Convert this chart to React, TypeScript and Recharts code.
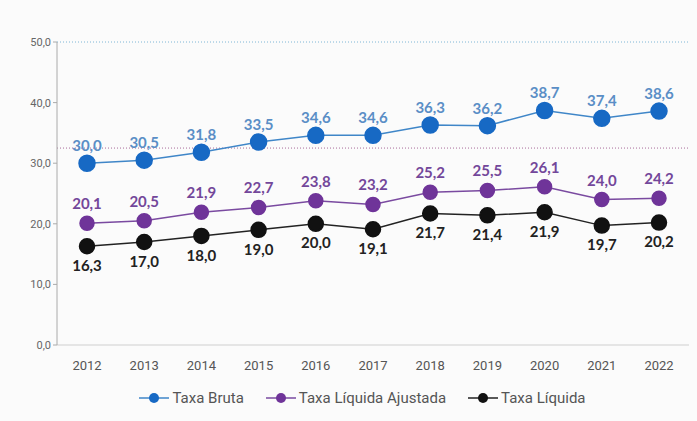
import { LineChart, Line, XAxis, YAxis, ReferenceLine, Legend, LabelList } from "recharts";

const years = ["2012", "2013", "2014", "2015", "2016", "2017", "2018", "2019", "2020", "2021", "2022"];
const taxaBruta = [30.0, 30.5, 31.8, 33.5, 34.6, 34.6, 36.3, 36.2, 38.7, 37.4, 38.6];
const taxaLiquidaAjustada = [20.1, 20.5, 21.9, 22.7, 23.8, 23.2, 25.2, 25.5, 26.1, 24.0, 24.2];
const taxaLiquida = [16.3, 17.0, 18.0, 19.0, 20.0, 19.1, 21.7, 21.4, 21.9, 19.7, 20.2];
const yTicks = [0, 10, 20, 30, 40, 50];
const metaLine = 32.5;

const data = years.map((year, i) => ({
  year,
  bruta: taxaBruta[i],
  ajustada: taxaLiquidaAjustada[i],
  liquida: taxaLiquida[i],
}));

const fmt = (v: number) => v.toFixed(1).replace(".", ",");

const narrow = "'Liberation Sans Narrow', 'Arial Narrow', Roboto, sans-serif";
const labelFont = "Lato, 'Open Sans', sans-serif";

const series = [
  { key: "bruta", name: "Taxa Bruta", color: "#1769c4", line: "#3f86c8" },
  { key: "ajustada", name: "Taxa Líquida Ajustada", color: "#6f3499", line: "#7a4aa0" },
  { key: "liquida", name: "Taxa Líquida", color: "#111111", line: "#222222" },
];

function LegendContent() {
  return (
    <div style={{ display: "flex", justifyContent: "center", gap: 22, fontFamily: narrow, fontSize: 15, color: "#555", paddingLeft: 24, paddingTop: 8 }}>
      {series.map((s) => (
        <div key={s.key} style={{ display: "flex", alignItems: "center" }}>
          <svg width={30} height={12} style={{ marginRight: 3 }}>
            <line x1={0} y1={6} x2={30} y2={6} stroke={s.line} strokeWidth={1.5} />
            <circle cx={15} cy={6} r={5} fill={s.color} />
          </svg>
          <span>{s.name}</span>
        </div>
      ))}
    </div>
  );
}

export default function App() {
  return (
    <div style={{ position: "absolute", left: 0, top: 0, width: 697, height: 421, background: "#fbfbfb" }}>
      <LineChart width={697} height={421} data={data} margin={{ top: 42, right: 8, bottom: 8, left: 12 }}>
        <XAxis
          dataKey="year"
          padding={{ left: 30, right: 30 }}
          axisLine={{ stroke: "#cfcfcf" }}
          tickLine={false}
          tick={{ fill: "#555", fontSize: 13, fontFamily: narrow }}
          tickMargin={10}
          height={36}
        />
        <YAxis
          domain={[0, 50]}
          ticks={yTicks}
          tickFormatter={fmt}
          axisLine={{ stroke: "#aaaaaa" }}
          tickLine={{ stroke: "#aaaaaa" }}
          tickSize={4}
          tick={{ fill: "#666", fontSize: 11, fontFamily: narrow }}
          width={45}
        />
        <ReferenceLine y={50} stroke="#7fb6d6" strokeDasharray="1 2" />
        <ReferenceLine y={metaLine} stroke="#a86a9a" strokeDasharray="1 2" />
        <Legend verticalAlign="bottom" height={32} content={<LegendContent />} />
        <Line
          dataKey="bruta"
          name="Taxa Bruta"
          stroke={series[0].line}
          strokeWidth={1.5}
          dot={{ r: 8, fill: series[0].color, stroke: series[0].color }}
          activeDot={false}
          isAnimationActive={false}
        >
          <LabelList dataKey="bruta" position="top" offset={12} formatter={(v: any) => fmt(Number(v))} fill="#5a8ec6" fontSize={15} fontWeight={700} fontFamily={labelFont} />
        </Line>
        <Line
          dataKey="ajustada"
          name="Taxa Líquida Ajustada"
          stroke={series[1].line}
          strokeWidth={1.5}
          dot={{ r: 7, fill: series[1].color, stroke: series[1].color }}
          activeDot={false}
          isAnimationActive={false}
        >
          <LabelList dataKey="ajustada" position="top" offset={14} formatter={(v: any) => fmt(Number(v))} fill="#73479a" fontSize={15} fontWeight={700} fontFamily={labelFont} />
        </Line>
        <Line
          dataKey="liquida"
          name="Taxa Líquida"
          stroke={series[2].line}
          strokeWidth={1.5}
          dot={{ r: 7.5, fill: series[2].color, stroke: series[2].color }}
          activeDot={false}
          isAnimationActive={false}
        >
          <LabelList dataKey="liquida" position="bottom" offset={14} formatter={(v: any) => fmt(Number(v))} fill="#222" fontSize={15} fontWeight={700} fontFamily={labelFont} />
        </Line>
      </LineChart>
    </div>
  );
}
